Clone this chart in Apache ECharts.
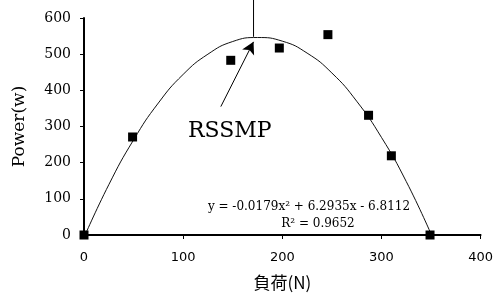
<!DOCTYPE html>
<html>
<head>
<meta charset="utf-8">
<script src="https://cdn.jsdelivr.net/npm/echarts@6/dist/echarts.min.js"></script>
<style>
    html, body {margin: 0; padding: 0; background: #fff;}
    #chart {width: 496px; height: 303px;}
</style>
</head>
<body>
<div id="chart"></div>
<script>
// measured points (load N, power W)
const loadN = [0, 49, 148, 197, 246, 287, 310, 349]
const powerW = [0, 271, 483, 517, 554, 331, 219, 0]

// trend curve
const curveX = [0, 25, 50, 75, 100, 125, 150, 175, 200, 225, 250, 275, 300, 325, 350]
const curveY = [-7, 139, 263, 365, 444, 500, 535, 546, 536, 503, 448, 370, 270, 148, 3]

// RSSMP marker: vertical line and arrow
const peakLineX = [171, 171]
const peakLineY = [548, 650]
const arrowFrom = [138, 355]
const arrowTo = [171, 534]

const xTicks = [0, 100, 200, 300, 400]
const yTicks = [0, 100, 200, 300, 400, 500, 600]

const serif = 'DejaVu Serif'

const chart = echarts.init(document.getElementById('chart'))

const option = {
    backgroundColor: '#fff',
    animation: false,
    grid: {left: 84, right: 12, top: 18, bottom: 68},
    xAxis: {
        type: 'value',
        min: xTicks[0],
        max: xTicks[xTicks.length - 1],
        interval: 100,
        name: '負荷(N)',
        nameLocation: 'middle',
        nameGap: 39,
        nameTextStyle: {fontFamily: 'Noto Sans CJK JP', fontSize: 17, color: '#000'},
        axisLine: {show: true, onZero: false, lineStyle: {color: '#000', width: 2}},
        axisTick: {show: true, length: 4, lineStyle: {color: '#000', width: 1}},
        axisLabel: {fontFamily: 'DejaVu Sans', fontSize: 13, color: '#000', margin: 16},
        splitLine: {show: false}
    },
    yAxis: {
        type: 'value',
        min: yTicks[0],
        max: yTicks[yTicks.length - 1],
        interval: 100,
        name: 'Power(w)',
        nameLocation: 'middle',
        nameGap: 56,
        nameTextStyle: {fontFamily: serif, fontSize: 17, color: '#000'},
        axisLine: {show: true, lineStyle: {color: '#000', width: 2}},
        axisTick: {show: true, length: 4, lineStyle: {color: '#000', width: 1}},
        axisLabel: {fontFamily: serif, fontSize: 14, color: '#000', margin: 13},
        splitLine: {show: false}
    },
    series: [
        {
            type: 'line',
            smooth: true,
            symbol: 'none',
            data: curveX.map((x, i) => [x, curveY[i]]),
            lineStyle: {color: '#111', width: 1}
        },
        {
            type: 'line',
            symbol: 'none',
            clip: false,
            data: peakLineX.map((x, i) => [x, peakLineY[i]]),
            lineStyle: {color: '#000', width: 1}
        },
        {
            type: 'scatter',
            symbol: 'rect',
            symbolSize: 9,
            clip: false,
            itemStyle: {color: '#000', opacity: 1},
            data: loadN.map((x, i) => [x, powerW[i]]),
            z: 5,
            markLine: {
                silent: true,
                symbol: ['none', 'arrow'],
                symbolSize: [10, 12],
                label: {show: false},
                lineStyle: {color: '#000', width: 1, type: 'solid', opacity: 1},
                itemStyle: {color: '#000'},
                data: [[{coord: arrowFrom}, {coord: arrowTo}]]
            }
        }
    ],
    graphic: [
        {
            type: 'text', left: 188, top: 120,
            style: {text: 'RSSMP', font: '22px "DejaVu Serif"', fill: '#000'}
        },
        {
            type: 'text', x: 309, y: 207,
            style: {
                text: 'y = -0.0179x² + 6.2935x - 6.8112',
                font: '12px "DejaVu Serif"', fill: '#000',
                align: 'center', verticalAlign: 'middle'
            }
        },
        {
            type: 'text', x: 318, y: 224,
            style: {
                text: 'R² = 0.9652',
                font: '12px "DejaVu Serif"', fill: '#000',
                align: 'center', verticalAlign: 'middle'
            }
        }
    ]
}

chart.setOption(option)
</script>
</body>
</html>
